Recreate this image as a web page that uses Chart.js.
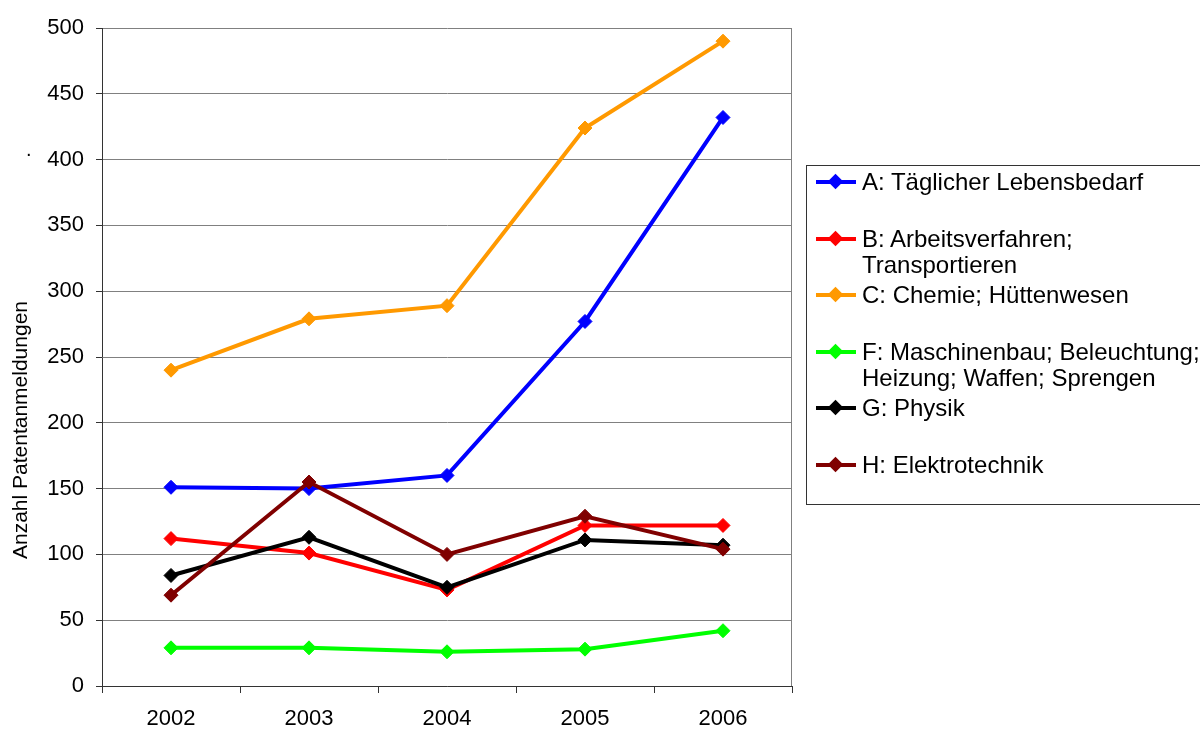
<!DOCTYPE html>
<html>
<head>
<meta charset="utf-8">
<script src="https://cdn.jsdelivr.net/npm/chart.js@4/dist/chart.umd.min.js"></script>
<style>
  html, body { margin:0; padding:0; background:#fff; overflow:hidden; }
  #wrap { position:relative; width:1200px; height:731px; font-family:"Liberation Sans", Arial, sans-serif; }
  #chart { position:absolute; left:0; top:0; }
  #ytitle { position:absolute; left:20px; top:430px; transform:translate(-50%,-50%) rotate(-90deg);
            font-size:21px; white-space:nowrap; color:#000; }
  #dot { position:absolute; left:26px; top:138px; font-size:20px; color:#000; }
  #legend { position:absolute; left:806px; top:165px; width:420px; height:340px;
            border:1px solid #333; box-sizing:border-box; }
  .item { position:absolute; left:0; font-size:24px; line-height:26px; color:#000; }
  .mark { position:absolute; left:9px; top:11px; width:40px; height:4px; }
  .mark i { position:absolute; left:14px; top:-4px; width:11px; height:11px; transform:rotate(45deg); }
  .txt { position:absolute; left:55px; top:0; white-space:nowrap; }
</style>
</head>
<body>
<div id="wrap">
  <canvas id="chart" width="1200" height="731"></canvas>
  <div id="ytitle">Anzahl Patentanmeldungen</div>
  <div id="dot">.</div>
  <div id="legend"></div>
</div>
<script>
let jahre = ["2002","2003","2004","2005","2006"];
let labels = [
  ["A: Täglicher Lebensbedarf"],
  ["B: Arbeitsverfahren;", "Transportieren"],
  ["C: Chemie; Hüttenwesen"],
  ["F: Maschinenbau; Beleuchtung;", "Heizung; Waffen; Sprengen"],
  ["G: Physik"],
  ["H: Elektrotechnik"]
];
let farben = ["#0000ff","#ff0000","#ff9900","#00ff00","#000000","#800000"];

let serieA = [151, 150, 160, 277, 432];
let serieB = [112, 101, 73, 122, 122];
let serieC = [240, 279, 289, 424, 490];
let serieF = [29, 29, 26, 28, 42];
let serieG = [84, 113, 75, 111, 107];
let serieH = [69, 155, 100, 129, 104];
let serien = [serieA, serieB, serieC, serieF, serieG, serieH];

let yTicks = { min:0, max:500, step:50 };

// Rahmen rechts am Diagramm
const rahmen = {
  id:'rahmen',
  afterDraw(c) {
    let a=c.chartArea, ctx=c.ctx;
    ctx.save(); ctx.strokeStyle="#808080"; ctx.lineWidth=1;
    ctx.beginPath(); ctx.moveTo(a.right-0.5,a.top); ctx.lineTo(a.right-0.5,a.bottom); ctx.stroke();
    ctx.restore();
  }
};

let datasets = serien.map((d,i)=>({
  label: labels[i].join(" "),
  data: d,
  borderColor: farben[i], backgroundColor: farben[i],
  pointBackgroundColor: farben[i], pointBorderColor: farben[i],
  borderWidth: 4, pointStyle:'rectRot', pointRadius:7, pointBorderWidth:1,
  tension: 0, order: serien.length-1-i
}));

new Chart(document.getElementById("chart"), {
  type:'line',
  data:{ labels: jahre, datasets },
  plugins:[rahmen],
  options:{
    responsive:false, animation:false,
    layout:{ padding:{ left:0, right:408, top:28, bottom:0 } },
    plugins:{ legend:{display:false}, tooltip:{enabled:false} },
    scales:{
      x:{
        offset:true,
        grid:{ offset:true, drawOnChartArea:false, tickLength:7, color:"#333" },
        border:{ color:"#333", width:1 },
        ticks:{ color:"#000", font:{ family:"Liberation Sans", size:22 }, padding:13 },
        afterFit(s){ s.height = 45; }
      },
      y:{
        min:yTicks.min, max:yTicks.max,
        grid:{ color:"#808080", tickColor:"#333", tickLength:6 },
        border:{ color:"#333", width:1 },
        ticks:{ stepSize:yTicks.step, color:"#000", font:{ family:"Liberation Sans", size:22 }, padding:12 },
        afterFit(s){ s.width = 102; }
      }
    }
  }
});

// Legende
let lg = document.getElementById("legend");
labels.forEach((l,i)=>{
  let d = document.createElement("div");
  d.className = "item";
  d.style.top = (3 + i*56.6) + "px";
  d.innerHTML = `<div class="mark" style="background:${farben[i]}"><i style="background:${farben[i]}"></i></div>` +
                `<div class="txt">${l.join("<br>")}</div>`;
  lg.appendChild(d);
});
</script>
</body>
</html>
